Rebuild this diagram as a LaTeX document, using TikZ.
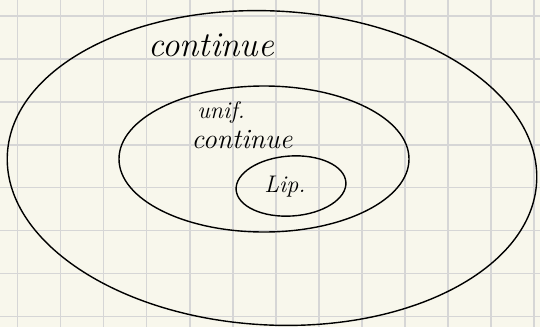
\documentclass[tikz,border=0pt]{standalone}
\usepackage{xcolor}
\usepackage{tikz}
\usetikzlibrary{shapes.geometric}
\definecolor{paper}{RGB}{248,247,236}
\definecolor{gridgray}{RGB}{214,214,214}
\tikzset{
  gridline/.style={gridgray, line width=1.6pt},
  setshape/.style={draw, ellipse, line width=1.4pt, inner sep=0pt},
  setlabel/.style={font=\itshape, inner sep=0pt}
}
\begin{document}
\begin{tikzpicture}[x=1pt,y=-1pt]
% paper and squares
\fill[paper] (0,0) rectangle (540,327);
\useasboundingbox (0,0) rectangle (540,327);
\foreach \i in {0,...,12}
  \draw[gridline] (17.5+43.05*\i,0) -- (17.5+43.05*\i,327);
\foreach \j in {0,...,7}
  \draw[gridline] (0,16+42.9*\j) -- (540,16+42.9*\j);

% nested sets
\node[setshape, minimum width=530pt, minimum height=314pt, rotate=-3] (cont) at (272,168) {};
\node[setshape, minimum width=290pt, minimum height=146pt] (unif) at (264,159) {};
\node[setshape, minimum width=110pt, minimum height=60pt, rotate=4] (lip) at (291,186) {};

% labels
\node[setlabel, font=\fontsize{35}{35}\selectfont\itshape] (contlabel) at (211,45) {continue};
\node[setlabel, font=\fontsize{24}{24}\selectfont\itshape] (uniflabel) at (221,112) {unif.};
\node[setlabel, font=\fontsize{28}{28}\selectfont\itshape] (uniflabel2) at (242,140) {continue};
\node[setlabel, font=\fontsize{24}{24}\selectfont\itshape] (liplabel) at (285,187) {Lip.};
\end{tikzpicture}
\end{document}
